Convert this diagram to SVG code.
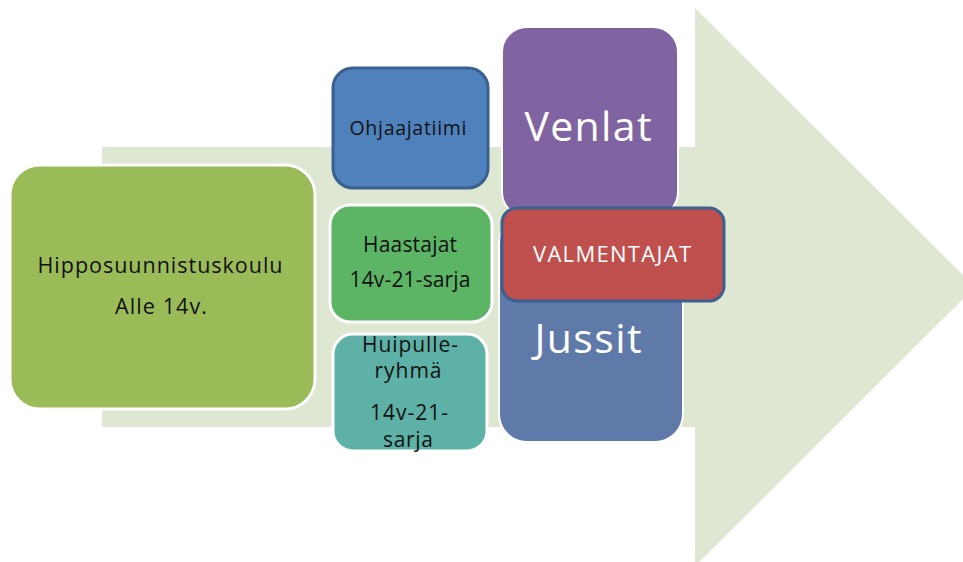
<svg xmlns="http://www.w3.org/2000/svg" width="963" height="562" viewBox="0 0 963 562">
<style>
text{font-family:"Open Sans","Liberation Sans",sans-serif;text-anchor:middle}
.dk{fill:#111}
.wt{fill:#fff}
.ws{stroke:#fff;stroke-width:3}
.bs{stroke:#3B5F8E;stroke-width:3}
</style>
<g id="arrow">
<polygon points="102,147 695,147 695,8 975,287 695,566 695,427 102,427" fill="#DDE7D2"/>
</g>
<g id="connectors"></g>
<g id="hipposuunnistuskoulu">
<rect x="10" y="165" width="305" height="244" rx="30" fill="#9BBB59" class="ws"/>
<text x="160" y="273" font-size="21.5" class="dk" textLength="245">Hipposuunnistuskoulu</text>
<text x="161" y="314" font-size="21.5" class="dk" textLength="92">Alle 14v.</text>
</g>
<g id="ohjaajatiimi">
<rect x="333" y="68" width="155" height="120" rx="20" fill="#4F81BD" class="bs"/>
<text x="408" y="135" font-size="19.5" class="dk" textLength="117">Ohjaajatiimi</text>
</g>
<g id="haastajat">
<rect x="330" y="205" width="162" height="117" rx="20" fill="#5CB565" class="ws"/>
<text x="410" y="252" font-size="21" class="dk" textLength="94">Haastajat</text>
<text x="410" y="287" font-size="21" class="dk" textLength="121">14v-21-sarja</text>
</g>
<g id="huipulle">
<rect x="333" y="334" width="154" height="117" rx="20" fill="#5EB1A6" class="ws"/>
<text x="410" y="352" font-size="21" class="dk" textLength="96">Huipulle-</text>
<text x="408" y="378" font-size="21" class="dk" textLength="67">ryhmä</text>
<text x="409" y="420" font-size="21" class="dk" textLength="78">14v-21-</text>
<text x="408" y="447" font-size="21" class="dk" textLength="50">sarja</text>
</g>
<g id="venlat">
<rect x="502" y="27" width="176" height="190" rx="25" fill="#8064A2" stroke="#fff" stroke-width="2"/>
<text x="588" y="141" font-size="41" class="wt" textLength="127">Venlat</text>
</g>
<g id="jussit">
<rect x="499" y="215" width="184" height="227" rx="28" fill="#5F79A9" stroke="#fff" stroke-width="2"/>
<text x="588" y="353" font-size="41" class="wt" textLength="107">Jussit</text>
</g>
<g id="valmentajat">
<rect x="502" y="208" width="222" height="93" rx="15" fill="#C0504D" class="bs"/>
<text x="612" y="262" font-size="22" class="wt" textLength="158">VALMENTAJAT</text>
</g>
</svg>
